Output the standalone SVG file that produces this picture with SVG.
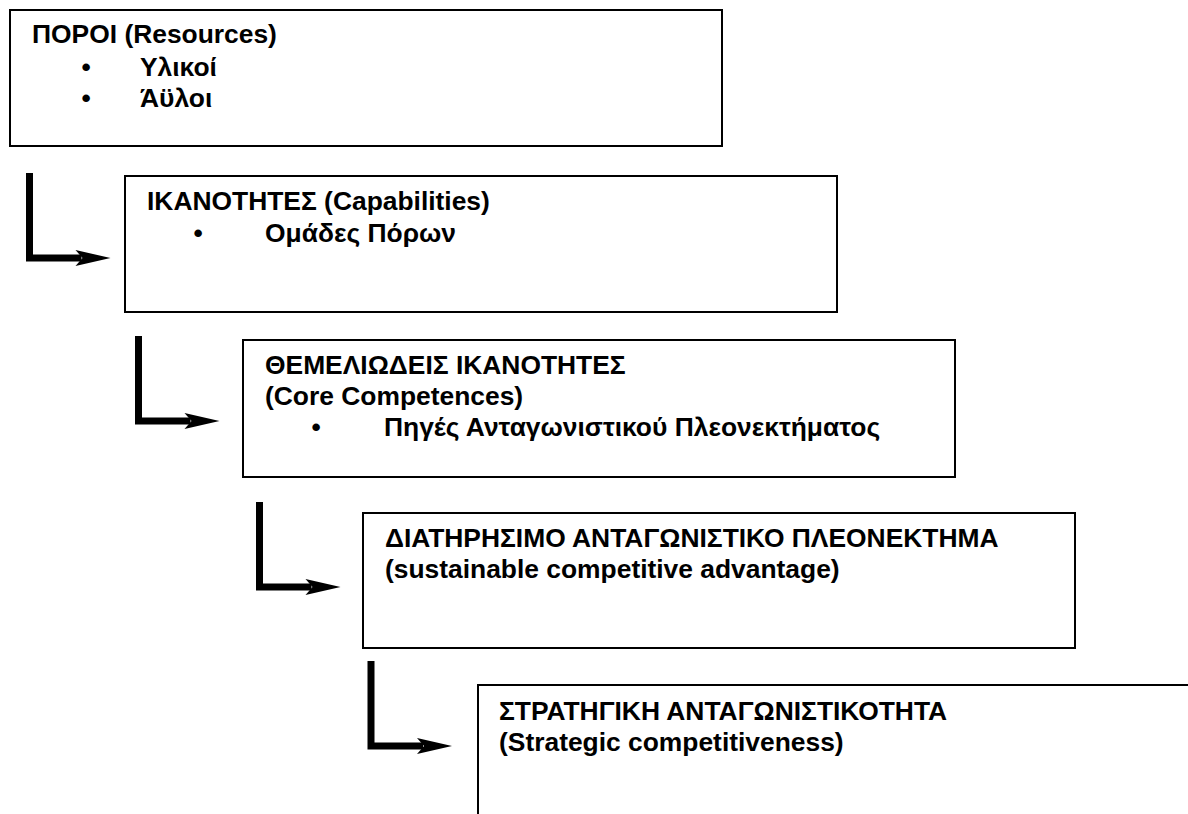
<svg xmlns="http://www.w3.org/2000/svg" width="1188" height="814" viewBox="0 0 1188 814">
  <style>
    .box { fill: #ffffff; stroke: #000000; stroke-width: 2; }
    .t { font-family: "Liberation Sans", Arial, sans-serif; font-weight: bold; font-size: 26.4px; fill: #000000; }
    .b { text-anchor: middle; }
    .shaft { fill: none; stroke: #000000; stroke-width: 7; stroke-linejoin: miter; stroke-linecap: butt; }
    .head { fill: #000000; }
  </style>
  <defs>
    <g id="larrow">
      <path class="shaft" d="M0,0 V85 H52"/>
      <polygon class="head" points="46,77 81,85 46,93 53,85"/>
    </g>
  </defs>
  <rect width="1188" height="814" fill="#ffffff"/>

  <g id="connectors">
    <use href="#larrow" transform="translate(29.5,173)"/>
    <use href="#larrow" transform="translate(138.5,336)"/>
    <use href="#larrow" transform="translate(259.5,502)"/>
    <use href="#larrow" transform="translate(371,661)"/>
  </g>

  <g id="node-resources">
    <rect class="box" x="10" y="10" width="712" height="136"/>
    <text class="t" x="32" y="43">ΠΟΡΟΙ (Resources)</text>
    <text class="t b" x="86" y="76">•</text>
    <text class="t" x="140" y="76">Υλικοί</text>
    <text class="t b" x="86" y="107">•</text>
    <text class="t" x="140" y="107">Άϋλοι</text>
  </g>

  <g id="node-capabilities">
    <rect class="box" x="125" y="176" width="712" height="136"/>
    <text class="t" x="147" y="210">ΙΚΑΝΟΤΗΤΕΣ (Capabilities)</text>
    <text class="t b" x="198" y="242">•</text>
    <text class="t" x="265" y="242">Ομάδες Πόρων</text>
  </g>

  <g id="node-core">
    <rect class="box" x="243" y="340" width="712" height="137"/>
    <text class="t" x="265" y="374">ΘΕΜΕΛΙΩΔΕΙΣ ΙΚΑΝΟΤΗΤΕΣ</text>
    <text class="t" x="265" y="405">(Core Competences)</text>
    <text class="t b" x="316" y="436">•</text>
    <text class="t" x="384" y="436">Πηγές Ανταγωνιστικού Πλεονεκτήματος</text>
  </g>

  <g id="node-sca">
    <rect class="box" x="363" y="513" width="712" height="135"/>
    <text class="t" x="385" y="547">ΔΙΑΤΗΡΗΣΙΜΟ ΑΝΤΑΓΩΝΙΣΤΙΚΟ ΠΛΕΟΝΕΚΤΗΜΑ</text>
    <text class="t" x="385" y="578">(sustainable competitive advantage)</text>
  </g>

  <g id="node-strategic">
    <rect class="box" x="478" y="685" width="714" height="140"/>
    <text class="t" x="499" y="720">ΣΤΡΑΤΗΓΙΚΗ ΑΝΤΑΓΩΝΙΣΤΙΚΟΤΗΤΑ</text>
    <text class="t" x="499" y="751">(Strategic competitiveness)</text>
  </g>
</svg>
